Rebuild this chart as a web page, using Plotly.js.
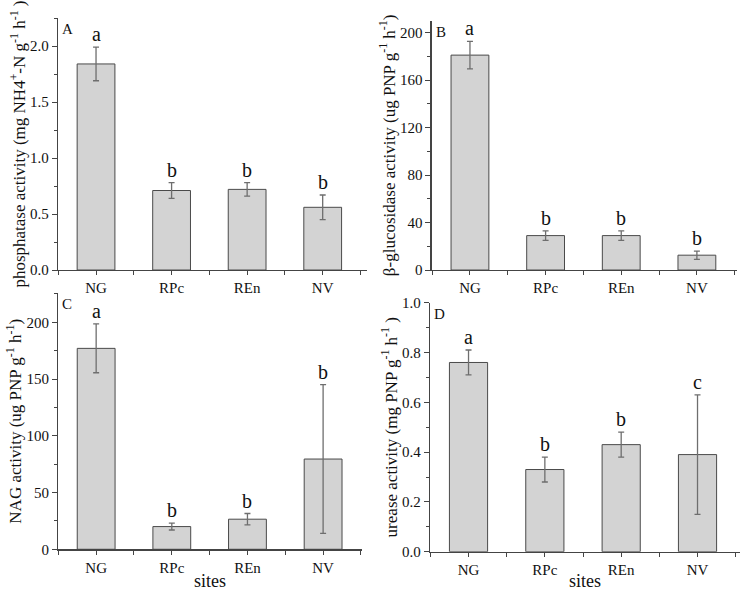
<!DOCTYPE html>
<html>
<head>
<meta charset="utf-8">
<script src="https://cdn.plot.ly/plotly-3.0.1.min.js"></script>
<style>
html,body{margin:0;padding:0;background:#fff;}
#chart{width:743px;height:591px;}
</style>
</head>
<body>
<div id="chart"></div>
<script>
// ---- data ----
const sites = ['NG', 'RPc', 'REn', 'NV'];

const phosMean = [1.84, 0.71, 0.72, 0.56];
const phosErr  = [0.15, 0.07, 0.06, 0.11];
const phosSig  = ['a', 'b', 'b', 'b'];

const glucMean = [181, 29, 29, 12.5];
const glucErr  = [11.5, 4, 4, 3.5];
const glucSig  = ['a', 'b', 'b', 'b'];

const nagMean = [177, 20, 26.5, 79.5];
const nagErr  = [21.5, 3, 5, 65.5];
const nagSig  = ['a', 'b', 'b', 'b'];

const ureMean = [0.76, 0.33, 0.43, 0.39];
const ureErr  = [0.05, 0.05, 0.05, 0.24];
const ureSig  = ['a', 'b', 'b', 'c'];

const panelLabels = ['A', 'B', 'C', 'D'];
const yTitles = [
  'phosphatase activity (mg NH4<sup>+</sup>-N g<sup>-1</sup> h<sup>-1</sup> )',
  'β-glucosidase activity (ug PNP g<sup>-1</sup> h<sup>-1</sup>)',
  'NAG activity (ug PNP g<sup>-1</sup> h<sup>-1</sup>)',
  'urease activity (mg PNP g<sup>-1</sup> h<sup>-1</sup> )'
];
const xTitle = 'sites';

// ---- styling ----
const FONT = 'Liberation Serif';
const AXC = '#444';
const TXT = '#111';
const xPos = sites.map((s, i) => i);

const panels = [
  {mean: phosMean, err: phosErr, sig: phosSig, xa: 'x',  ya: 'y',
   xdom: [0.0781, 0.4939], ydom: [0.5431, 0.9695], xr: [-0.503, 3.586], yr: [0, 2.25], dt: 0.5, showX: false},
  {mean: glucMean, err: glucErr, sig: glucSig, xa: 'x2', ya: 'y2',
   xdom: [0.5810, 0.9919], ydom: [0.5431, 0.9650], xr: [-0.506, 3.53], yr: [0, 210], dt: 40, showX: false},
  {mean: nagMean, err: nagErr, sig: nagSig, xa: 'x3', ya: 'y3',
   xdom: [0.0785, 0.4868], ydom: [0.0706, 0.5037], xr: [-0.50, 3.51], yr: [0, 225.5], dt: 50, showX: true},
  {mean: ureMean, err: ureErr, sig: ureSig, xa: 'x4', ya: 'y4',
   xdom: [0.5787, 0.9960], ydom: [0.0665, 0.4878], xr: [-0.505, 3.557], yr: [0, 1.0], dt: 0.2, showX: true}
];

const traces = [];
const annotations = [];
const layout = {
  width: 743, height: 591,
  margin: {l: 0, r: 0, t: 0, b: 0},
  paper_bgcolor: '#fff', plot_bgcolor: '#fff',
  showlegend: false,
  font: {family: FONT, color: TXT, size: 15},
  annotations: annotations
};

panels.forEach((p, k) => {
  traces.push({
    type: 'bar', x: xPos, y: p.mean, xaxis: p.xa, yaxis: p.ya, width: 0.5,
    marker: {color: '#d3d3d3', line: {color: '#4a4a4a', width: 1}},
    error_y: {type: 'data', array: p.err, visible: true, color: '#6e6e6e', thickness: 1.3, width: 3},
    hoverinfo: 'skip'
  });
  const xs = k === 0 ? '' : String(k + 1);
  const xKey = 'xaxis' + xs, yKey = 'yaxis' + xs;
  layout[xKey] = {
    domain: p.xdom, anchor: p.ya, range: p.xr,
    tickmode: 'array', tickvals: xPos, ticktext: sites,
    ticks: 'outside', ticklen: 4, tickwidth: 1, tickcolor: AXC,
    minor: {tickmode: 'linear', tick0: 0.5, dtick: 1, ticks: 'outside', ticklen: 4, tickwidth: 1, tickcolor: AXC},
    showline: true, linecolor: AXC, linewidth: 1.3, showgrid: false, zeroline: false,
    tickfont: {family: FONT, size: 15, color: TXT},
    fixedrange: true
  };
  if (p.showX) {
    layout[xKey].title = {text: xTitle, font: {family: FONT, size: 18, color: TXT}, standoff: 0};
  }
  layout[yKey] = {
    domain: p.ydom, anchor: p.xa, range: p.yr,
    tickmode: 'linear', tick0: 0, dtick: p.dt,
    tickformat: (p.dt < 1 ? '.1f' : 'd'),
    ticks: 'outside', ticklen: 5, tickwidth: 1, tickcolor: AXC,
    minor: {dtick: p.dt / 2, ticks: 'outside', ticklen: 3, tickwidth: 1, tickcolor: AXC},
    showline: true, linecolor: AXC, linewidth: 1.3, showgrid: false, zeroline: false,
    tickfont: {family: FONT, size: 15, color: TXT},
    title: {text: yTitles[k], font: {family: FONT, size: 17, color: TXT}, standoff: 0},
    fixedrange: true
  };
  // significance letters
  p.sig.forEach((s, i) => {
    annotations.push({
      x: xPos[i], y: p.mean[i] + p.err[i], xref: p.xa, yref: p.ya,
      text: s, showarrow: false, xanchor: 'center', yanchor: 'bottom',
      font: {family: FONT, size: 20, color: TXT}
    });
  });
  // panel label
  annotations.push({
    x: 0, y: 1, xref: p.xa + ' domain', yref: p.ya + ' domain',
    text: panelLabels[k], showarrow: false, xanchor: 'left', yanchor: 'top',
    xshift: 2, yshift: -1,
    font: {family: FONT, size: 15, color: TXT}
  });
});

Plotly.newPlot('chart', traces, layout, {displayModeBar: false, staticPlot: true});
</script>
</body>
</html>
